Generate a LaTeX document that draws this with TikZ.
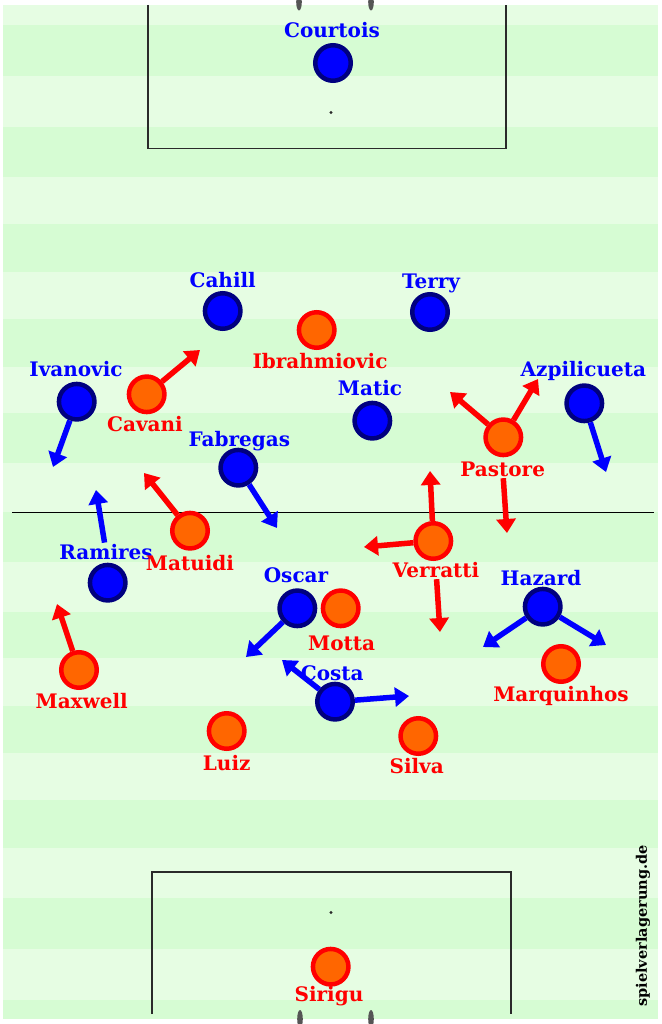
\documentclass[tikz,border=0pt]{standalone}
\usepackage{fontspec}
\setmainfont{DejaVu Serif}
\usepackage{xcolor}
\usepackage{tikz}
\usetikzlibrary{arrows.meta}
\definecolor{pitchLight}{HTML}{E6FDE3}
\definecolor{pitchDark}{HTML}{D6FCD3}
\definecolor{teamBlue}{HTML}{0000FF}
\definecolor{teamNavy}{HTML}{00007F}
\definecolor{teamRed}{HTML}{FF0000}
\definecolor{teamOrange}{HTML}{FF6600}
\definecolor{lineGrey}{HTML}{2A2A2A}
\definecolor{postGrey}{HTML}{555555}

\begin{document}
\begin{tikzpicture}[
    x=1pt, y=-1pt,
    every node/.style={font=\fontsize{20}{20}\selectfont\bfseries},
    bluePl/.style={circle, draw=teamNavy, fill=teamBlue, line width=4.5pt,
                   minimum size=35.5pt, inner sep=0pt},
    redPl/.style={circle, draw=teamRed, fill=teamOrange, line width=4.5pt,
                  minimum size=35.5pt, inner sep=0pt},
    blueLab/.style={anchor=base, inner sep=1pt, text=teamBlue},
    redLab/.style={anchor=base, inner sep=1pt, text=teamRed},
    blueArr/.style={draw=teamBlue, line width=5.5pt, -{Triangle[length=14pt, width=19pt]}},
    redArr/.style={draw=teamRed, line width=5.5pt, -{Triangle[length=14pt, width=19pt]}},
    pitchLine/.style={draw=lineGrey, line width=1.4pt},
    post/.style={fill=postGrey},
  ]
  \useasboundingbox (0,0) rectangle (661,1024);
  \clip (0,0) rectangle (661,1024);
  \fill[white] (0,0) rectangle (661,1024);

  % pitch
  \fill[pitchLight] (3,5) rectangle (658,1019);
  \foreach \a/\b in {25/76, 127/177, 224/272, 319/367, 413/463, 512/562,
                     612/658, 706/753, 800/848, 898/949, 1000/1019}
    \fill[pitchDark] (3,\a) rectangle (658,\b);

  \draw[pitchLine] (148,5) -- (148,148.5) -- (506,148.5) -- (506,5);
  \draw[pitchLine] (152,1014) -- (152,872) -- (511,872) -- (511,1014);
  \draw[black, line width=1pt] (12,512) -- (654,512);
  \fill[lineGrey] (331,112.5) circle (1.7pt);
  \fill[lineGrey] (331,912.5) circle (1.7pt);
  \fill[post] (299,2) ellipse [x radius=2.8pt, y radius=8.5pt];
  \fill[post] (371,2) ellipse [x radius=2.8pt, y radius=8.5pt];
  \fill[post] (300,1019) ellipse [x radius=2.8pt, y radius=9pt];
  \fill[post] (371,1019) ellipse [x radius=2.8pt, y radius=9pt];

  % Chelsea
  \node[bluePl] (courtois) at (333,63) {};
  \node[blueLab] (courtoisL) at (332,37.3) {Courtois};
  \node[bluePl] (cahill) at (222.7,311) {};
  \node[blueLab] (cahillL) at (222.7,287.3) {Cahill};
  \node[bluePl] (terry) at (430,312) {};
  \node[blueLab] (terryL) at (431,288) {Terry};
  \node[bluePl] (ivanovic) at (76.7,401.7) {};
  \node[blueLab] (ivanovicL) at (76,376.7) {Ivanovic};
  \node[bluePl] (matic) at (372.3,420.7) {};
  \node[blueLab] (maticL) at (370,395) {Matic};
  \node[bluePl] (azpilicueta) at (584.3,403.3) {};
  \node[blueLab] (azpilicuetaL) at (583.3,376) {Azpilicueta};
  \node[bluePl] (fabregas) at (238.3,467.7) {};
  \node[blueLab] (fabregasL) at (239.3,446.7) {Fabregas};
  \node[bluePl] (ramires) at (107.7,582.7) {};
  \node[blueLab] (ramiresL) at (106,559) {Ramires};
  \node[bluePl] (oscar) at (297.3,608.3) {};
  \node[blueLab] (oscarL) at (296,582.7) {Oscar};
  \node[bluePl] (hazard) at (542.7,606.7) {};
  \node[blueLab] (hazardL) at (541,585.7) {Hazard};
  \node[bluePl] (costa) at (335,701.7) {};
  \node[blueLab] (costaL) at (332.3,680) {Costa};

  % PSG
  \node[redPl] (ibra) at (316.7,330) {};
  \node[redLab] (ibraL) at (320,368) {Ibrahmiovic};
  \node[redPl] (cavani) at (146.7,394.3) {};
  \node[redLab] (cavaniL) at (145,431.7) {Cavani};
  \node[redPl] (pastore) at (503.3,437.3) {};
  \node[redLab] (pastoreL) at (502.7,476.7) {Pastore};
  \node[redPl] (matuidi) at (190,530.7) {};
  \node[redLab] (matuidiL) at (190,570) {Matuidi};
  \node[redPl] (verratti) at (433.3,541) {};
  \node[redLab] (verrattiL) at (436,577.7) {Verratti};
  \node[redPl] (motta) at (340.7,608.3) {};
  \node[redLab] (mottaL) at (341.7,650.7) {Motta};
  \node[redPl] (maxwell) at (79,670) {};
  \node[redLab] (maxwellL) at (81.7,708.3) {Maxwell};
  \node[redPl] (marquinhos) at (561,664) {};
  \node[redLab] (marquinhosL) at (561,701.7) {Marquinhos};
  \node[redPl] (luiz) at (226.7,731) {};
  \node[redLab] (luizL) at (226.7,770) {Luiz};
  \node[redPl] (silva) at (418.3,736) {};
  \node[redLab] (silvaL) at (416.7,773.3) {Silva};
  \node[redPl] (sirigu) at (330.7,966.7) {};
  \node[redLab] (siriguL) at (329,1001) {Sirigu};

  % runs
  \coordinate (ivanovicTo) at (53,467);
  \coordinate (azpilicuetaTo) at (606,472);
  \coordinate (fabregasTo) at (277,528);
  \coordinate (ramiresTo) at (96,490);
  \coordinate (oscarTo) at (246,657);
  \coordinate (hazardTo1) at (483,647);
  \coordinate (hazardTo2) at (606,645);
  \coordinate (costaTo1) at (282,660);
  \coordinate (costaTo2) at (409,696);
  \draw[blueArr] (ivanovic) -- (ivanovicTo);
  \draw[blueArr] (azpilicueta) -- (azpilicuetaTo);
  \draw[blueArr] (fabregas) -- (fabregasTo);
  \draw[blueArr] (ramiresL) -- (ramiresTo);
  \draw[blueArr] (oscar) -- (oscarTo);
  \draw[blueArr] (hazard) -- (hazardTo1);
  \draw[blueArr] (hazard) -- (hazardTo2);
  \draw[blueArr] (costa) -- (costaTo1);
  \draw[blueArr] (costa) -- (costaTo2);

  \coordinate (cavaniTo) at (200,350);
  \coordinate (pastoreTo1) at (450,392);
  \coordinate (pastoreTo2) at (538,379);
  \coordinate (pastoreTo3) at (507,533);
  \coordinate (matuidiTo) at (144,473);
  \coordinate (verrattiTo1) at (430,471);
  \coordinate (verrattiTo2) at (364,547);
  \coordinate (verrattiTo3) at (440,632);
  \coordinate (maxwellTo) at (57,604);
  \draw[redArr] (cavani) -- (cavaniTo);
  \draw[redArr] (pastore) -- (pastoreTo1);
  \draw[redArr] (pastore) -- (pastoreTo2);
  \draw[redArr] (pastoreL) -- (pastoreTo3);
  \draw[redArr] (matuidi) -- (matuidiTo);
  \draw[redArr] (verratti) -- (verrattiTo1);
  \draw[redArr] (verratti) -- (verrattiTo2);
  \draw[redArr] (verrattiL) -- (verrattiTo3);
  \draw[redArr] (maxwell) -- (maxwellTo);

  \node[rotate=90, font=\fontsize{14.5}{14.5}\selectfont\bfseries] (credit) at (643,926) {spielverlagerung.de};
\end{tikzpicture}
\end{document}
